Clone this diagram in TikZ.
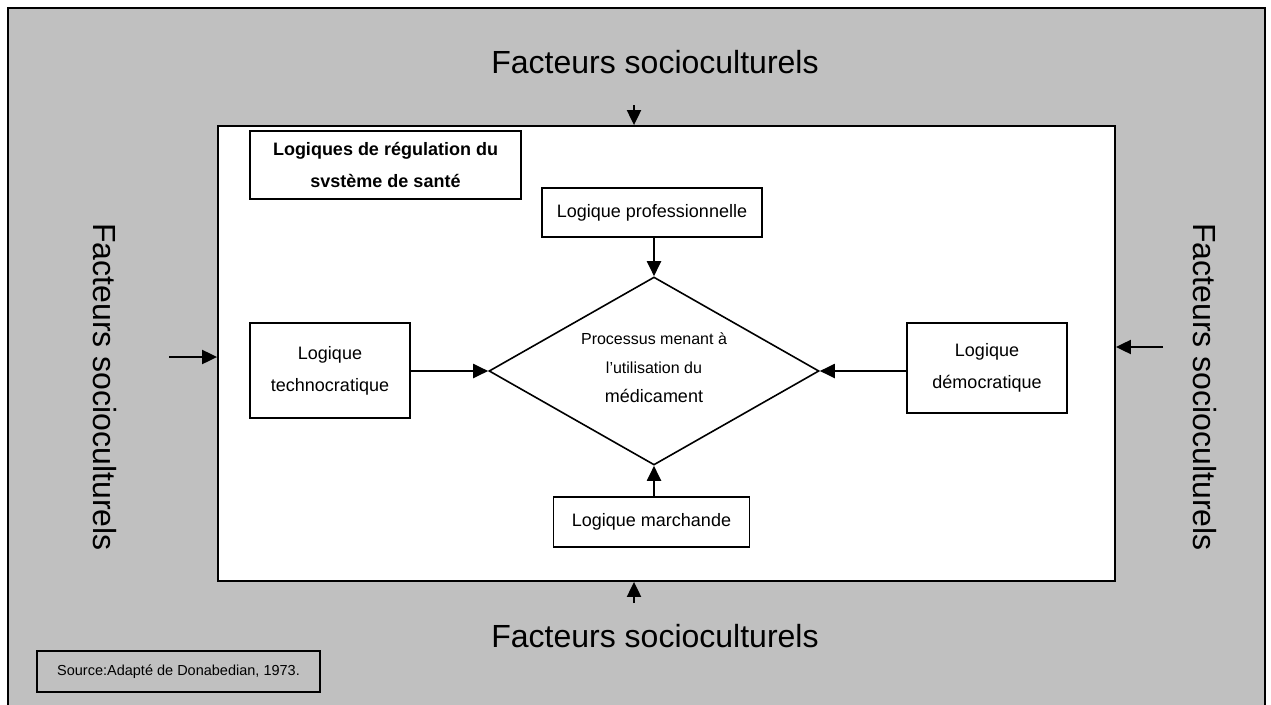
\documentclass[tikz,border=0pt]{standalone}
\usepackage{fontspec}
\setmainfont{Liberation Sans}
\usetikzlibrary{arrows.meta,shapes.geometric}
\definecolor{panelgray}{RGB}{192,192,192}
\begin{document}
\begin{tikzpicture}[x=1pt,y=-1pt,
  logicbox/.style={draw=black,line width=1.6pt,fill=white,inner sep=0pt,align=center,
    font=\fontsize{18}{32}\selectfont},
  flow/.style={line width=2pt,-{Triangle[length=15pt,width=14pt]}},
  outerlabel/.style={font=\fontsize{32}{38}\selectfont,inner sep=0pt},
]
\useasboundingbox (0,0) rectangle (1271,704);
\path[fill=white] (0,0) rectangle (1271,704);
% grey surround: socio-cultural context
\draw[fill=panelgray,line width=2.5pt] (8,8) rectangle (1265,708);
% white field: regulation logics of the health system
\node[draw=black,line width=1.8pt,fill=white,inner sep=0pt,
      minimum width=897pt,minimum height=455pt] (field) at (666.5,353.5) {};

% context labels
\node[outerlabel] (ftop) at (655,62) {Facteurs socioculturels};
\node[outerlabel] (fbot) at (655,636) {Facteurs socioculturels};
\node[outerlabel,rotate=-90] (fleft) at (105,387) {Facteurs socioculturels};
\node[outerlabel,rotate=-90] (fright) at (1205,387) {Facteurs socioculturels};

% context arrows pointing onto the field
\coordinate (topin) at (634,105);
\coordinate (botin) at (634,603);
\coordinate (leftin) at (169,357);
\coordinate (rightin) at (1163,347);
\draw[flow] (topin) -- (field.north -| topin);
\draw[flow] (botin) -- (field.south -| botin);
\draw[flow] (leftin) -- (field.west |- leftin);
\draw[flow] (rightin) -- (field.east |- rightin);

% title box
\node[logicbox,font=\fontsize{18}{32}\selectfont\bfseries,
      minimum width=271pt,minimum height=68pt] (title) at (385.5,165)
  {Logiques de régulation du\\svstème de santé};

% central process
\node[draw=black,line width=1.6pt,shape=diamond,inner sep=0pt,
      minimum width=330pt,minimum height=188pt] (proc) at (654,371) {};
\node[inner sep=0pt,align=center,font=\fontsize{16}{29}\selectfont] (proctext) at (654,368)
  {Processus menant à\\l’utilisation du\\{\fontsize{18}{29}\selectfont médicament}};

% the four logics
\node[logicbox,minimum width=220pt,minimum height=49pt] (prof) at (652,212.5)
  {Logique professionnelle};
\node[logicbox,minimum width=160pt,minimum height=95pt] (techno) at (330,370.5)
  {Logique\\technocratique};
\node[logicbox,minimum width=160pt,minimum height=90pt] (demo) at (987,368)
  {Logique\\démocratique};
\node[logicbox,minimum width=196pt,minimum height=50pt] (march) at (651.5,522)
  {Logique marchande};

\draw[flow] (prof.south -| proc.north) -- (proc.north);
\draw[flow] (techno.east |- proc.west) -- (proc.west);
\draw[flow] (demo.west |- proc.east) -- (proc.east);
\draw[flow] (march.north -| proc.south) -- (proc.south);

% source note
\node[draw=black,line width=1.4pt,fill=panelgray,inner sep=0pt,
      minimum width=283pt,minimum height=41pt,font=\fontsize{14.5}{17}\selectfont]
  (source) at (178.5,671.5) {Source:Adapté de Donabedian, 1973.};
\end{tikzpicture}
\end{document}
